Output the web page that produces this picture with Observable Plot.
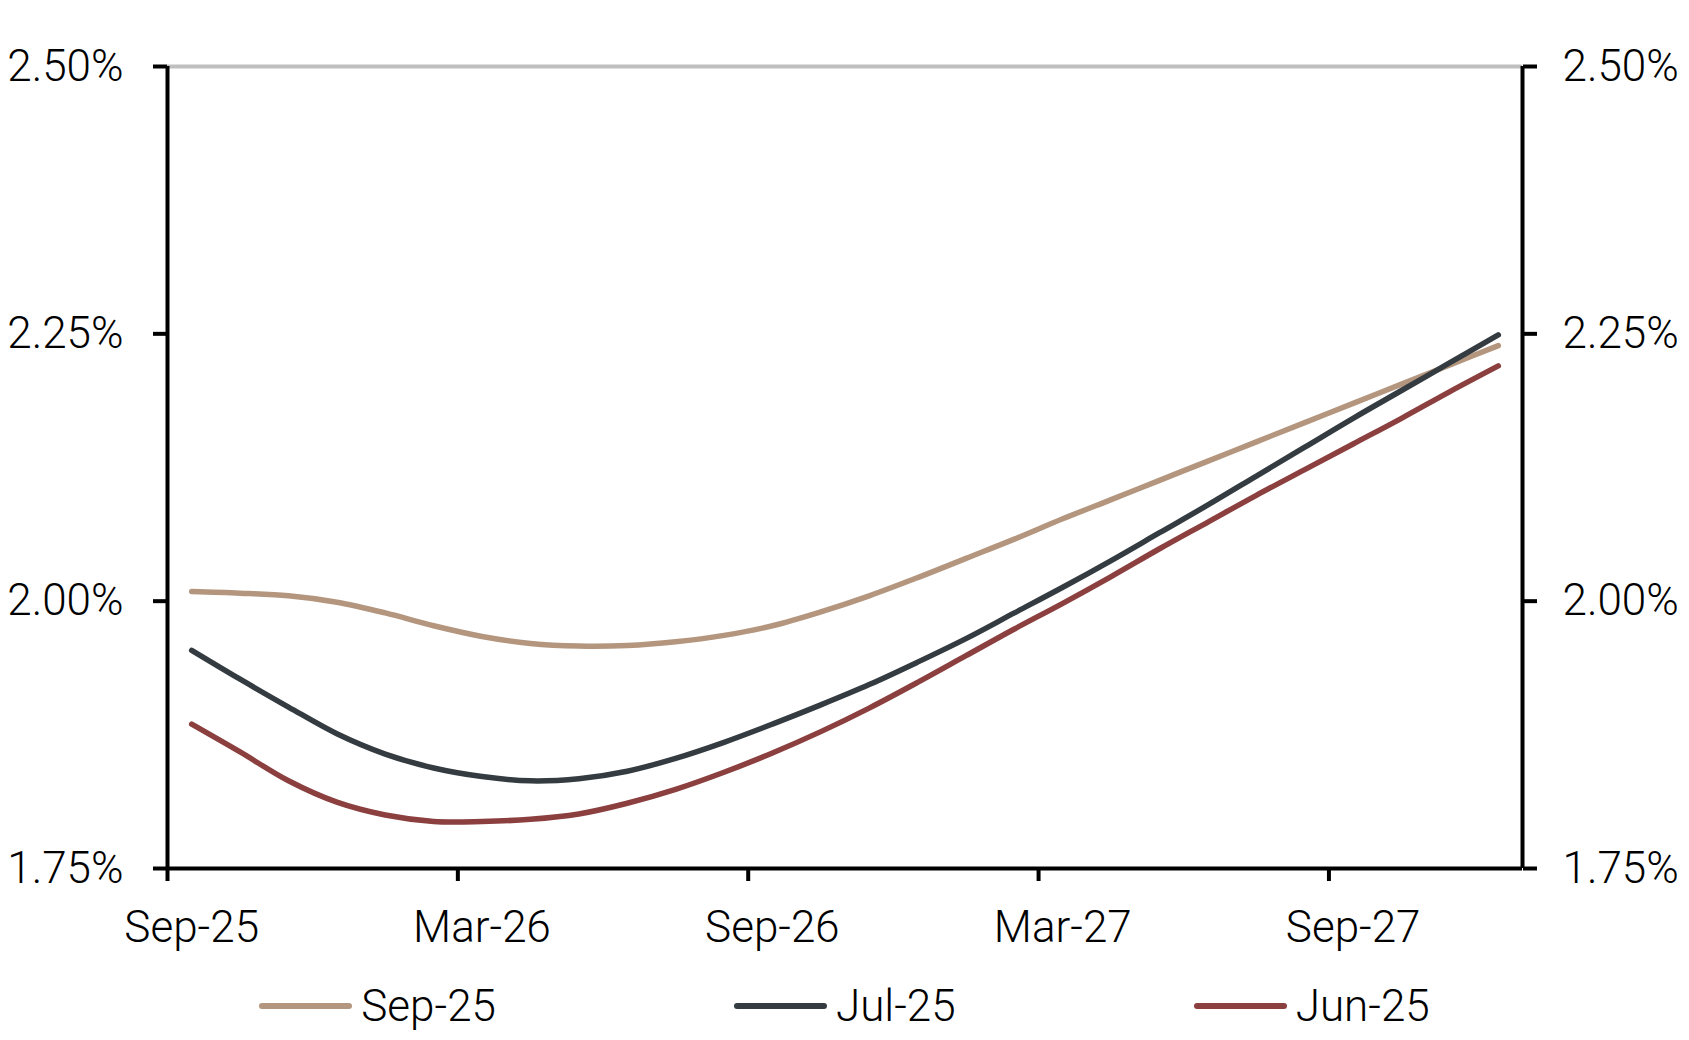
<!DOCTYPE html>
<html>
<head>
<meta charset="utf-8">
<script src="https://cdn.jsdelivr.net/npm/d3@7"></script>
<script src="https://cdn.jsdelivr.net/npm/@observablehq/plot@0.6"></script>
<style>
  html, body { margin: 0; padding: 0; background: #fff; }
  body { width: 1689px; height: 1040px; overflow: hidden; font-family: Roboto, "Noto Sans", sans-serif; font-weight: 300; }
  #legend { display: flex; justify-content: center; align-items: center; gap: 238px; height: 65px; padding-top: 13px; }
  .item { display: flex; align-items: center; font-size: 44px; color: #000; }
  .swatch { width: 93px; height: 6px; border-radius: 3px; margin-right: 9px; }
</style>
</head>
<body>
<div id="chart"></div>
<div id="legend"></div>
<script>
const months = ["Sep-25","Oct-25","Nov-25","Dec-25","Jan-26","Feb-26","Mar-26","Apr-26","May-26","Jun-26","Jul-26","Aug-26",
                "Sep-26","Oct-26","Nov-26","Dec-26","Jan-27","Feb-27","Mar-27","Apr-27","May-27","Jun-27","Jul-27","Aug-27",
                "Sep-27","Oct-27","Nov-27","Dec-27"];
const sep25 = [2.009,2.0075,2.005,1.999,1.989,1.977,1.967,1.9605,1.958,1.9585,1.962,1.968,
               1.977,1.990,2.005,2.022,2.040,2.058,2.077,2.095,2.113,2.131,2.149,2.167,
               2.185,2.203,2.221,2.239];
const jul25 = [1.954,1.927,1.901,1.876,1.857,1.844,1.836,1.832,1.834,1.841,1.853,1.868,
               1.885,1.903,1.922,1.943,1.965,1.989,2.013,2.038,2.064,2.090,2.117,2.144,
               2.171,2.197,2.223,2.249];
const jun25 = [1.885,1.859,1.832,1.812,1.800,1.794,1.794,1.796,1.801,1.811,1.824,1.840,
               1.858,1.878,1.900,1.924,1.949,1.974,1.998,2.023,2.049,2.074,2.099,2.123,
               2.147,2.171,2.196,2.220];
const seriesNames = ["Sep-25","Jul-25","Jun-25"];
const seriesColors = ["#b4967e","#343c41","#8b3f3f"];
const yTicks = [1.75, 2.00, 2.25, 2.50];
const xLabels = ["Sep-25","Mar-26","Sep-26","Mar-27","Sep-27"];

const seriesValues = [sep25, jul25, jun25];
const rows = [];
seriesNames.forEach((s, k) => seriesValues[k].forEach((v, i) => rows.push({s, i, v})));
const labelIdx = xLabels.map(l => months.indexOf(l));
const boundaries = labelIdx.map(i => i - 0.5);
const xDomain = [-0.5, months.length - 0.5];
const yDomain = [yTicks[0], yTicks[yTicks.length - 1]];
const fmt = d => d.toFixed(2) + "%";

const chart = Plot.plot({
  width: 1689,
  height: 960,
  marginTop: 66,
  marginBottom: 92,
  marginLeft: 167,
  marginRight: 167,
  style: { fontFamily: "Roboto, 'Noto Sans', sans-serif", fontSize: "44px", fontWeight: 300, color: "#000", background: "#fff", overflow: "visible" },
  x: { type: "linear", domain: xDomain },
  y: { domain: yDomain },
  color: { domain: seriesNames, range: seriesColors },
  marks: [
    Plot.ruleY([yDomain[1]], { stroke: "#bfbfbf", strokeWidth: 4 }),
    Plot.line(rows, { x: "i", y: "v", z: "s", stroke: "s", strokeWidth: 5.5, curve: "catmull-rom", strokeLinecap: "round", strokeLinejoin: "round" }),
    Plot.ruleY([yDomain[0]], { stroke: "#000", strokeWidth: 4 }),
    Plot.ruleX(xDomain, { stroke: "#000", strokeWidth: 4 }),
    Plot.axisY({ anchor: "left", ticks: yTicks, tickSize: 14, tickPadding: 30, strokeWidth: 4, tickFormat: fmt, label: null }),
    Plot.axisY({ anchor: "right", ticks: yTicks, tickSize: 14, tickPadding: 26, strokeWidth: 4, tickFormat: fmt, label: null }),
    Plot.axisX({ ticks: boundaries, tickSize: 13, strokeWidth: 4, tickFormat: () => "", label: null }),
    Plot.axisX({ ticks: labelIdx, tickSize: 0, tickPadding: 42, tickFormat: i => months[i], label: null })
  ]
});
document.getElementById("chart").appendChild(chart);

const legend = document.getElementById("legend");
seriesNames.forEach((name, k) => {
  const item = document.createElement("div");
  item.className = "item";
  const sw = document.createElement("span");
  sw.className = "swatch";
  sw.style.background = seriesColors[k];
  const tx = document.createElement("span");
  tx.textContent = name;
  item.appendChild(sw);
  item.appendChild(tx);
  legend.appendChild(item);
});
</script>
</body>
</html>
